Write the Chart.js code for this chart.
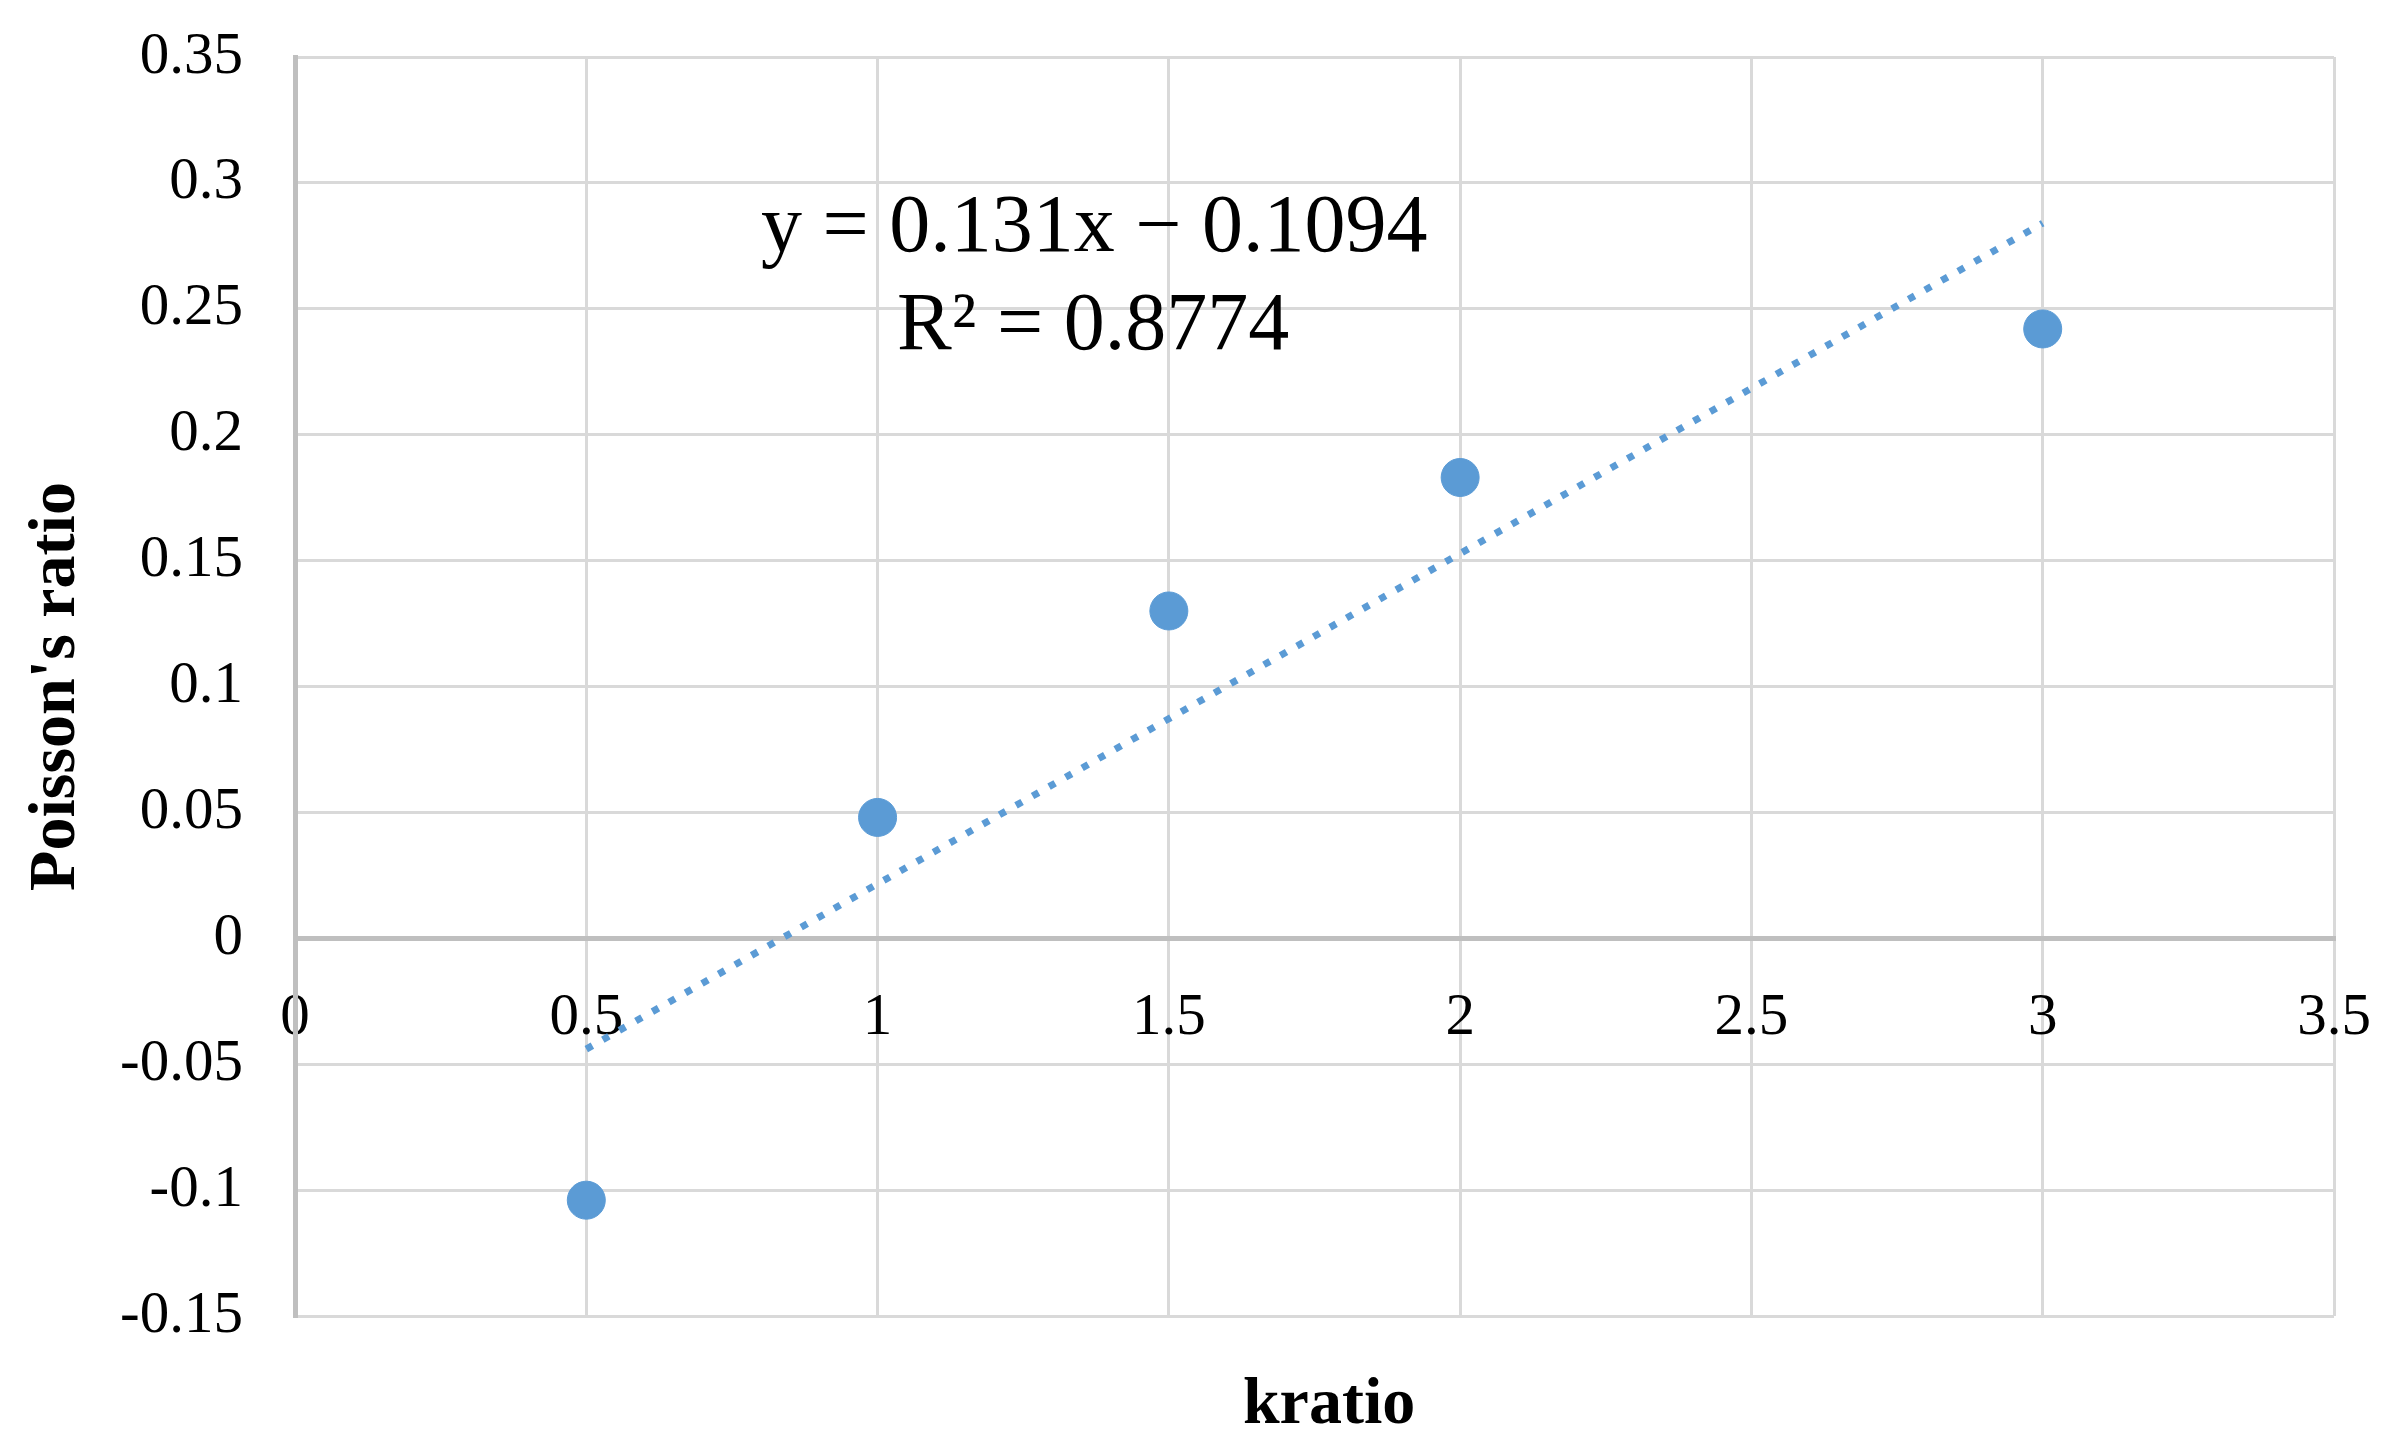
<!DOCTYPE html>
<html>
<head>
<meta charset="utf-8">
<script src="https://cdn.jsdelivr.net/npm/chart.js@4/dist/chart.umd.min.js"></script>
<style>
    html, body {
        margin: 0;
        padding: 0;
        background: #ffffff;
    }
    #wrap {
        width: 2400px;
        height: 1451px;
    }
</style>
</head>
<body>
<div id="wrap">
    <canvas id="poissonChart" width="2400" height="1451"></canvas>
</div>
<script>

const kratio = [0.5, 1, 1.5, 2, 3];

const poissonRatio = [-0.104, 0.048, 0.13, 0.183, 0.242];

// trendline ends as drawn in the picture
const trendX = [0.5, 3];
const trendY = [-0.044, 0.284];

const equationLines = [
    "y = 0.131x \u2212 0.1094",
    "R\u00b2 = 0.8774"
];

const xTickLabels = ["0", "0.5", "1", "1.5", "2", "2.5", "3", "3.5"];
const yTickLabels = ["-0.15", "-0.1", "-0.05", "0", "0.05", "0.1", "0.15", "0.2", "0.25", "0.3", "0.35"];

const BLUE = "#5B9BD5";
const SERIF = "'Liberation Serif', 'Times New Roman', serif";

function pairs(xs, ys) {
    return xs.map((x, i) => ({ x: x, y: ys[i] }));
}

function tickText(list, value) {
    const hit = list.find(
        label => Math.abs(parseFloat(label) - value) < 1e-6
    );
    return hit !== undefined ? hit : "";
}

const textPlugin = {
    id: "extraText",
    afterDatasetsDraw(chart) {
        const ctx = chart.ctx;
        const xs = chart.scales.x;
        const ys = chart.scales.y;

        ctx.save();
        ctx.fillStyle = "#000000";
        ctx.font = "82px " + SERIF;
        ctx.textAlign = "center";
        ctx.textBaseline = "alphabetic";

        ctx.fillText(
            equationLines[0],
            xs.getPixelForValue(1.372),
            ys.getPixelForValue(0.273)
        );

        ctx.fillText(
            equationLines[1],
            xs.getPixelForValue(1.37),
            ys.getPixelForValue(0.234)
        );

        // x axis title
        ctx.font = "bold 66px " + SERIF;
        ctx.textBaseline = "middle";
        ctx.fillText(
            "kratio",
            xs.getPixelForValue(1.775),
            chart.chartArea.bottom + 90
        );

        ctx.restore();
    }
};

const ctx = document.getElementById("poissonChart");

new Chart(ctx, {

    type: "scatter",

    data: {
        datasets: [
            {
                label: "Trend",
                type: "line",
                data: pairs(trendX, trendY),
                borderColor: BLUE,
                borderWidth: 7,
                borderDash: [7, 12],
                borderCapStyle: "butt",
                pointRadius: 0,
                fill: false,
                order: 2
            },
            {
                label: "Poisson's ratio",
                data: pairs(kratio, poissonRatio),
                backgroundColor: BLUE,
                borderColor: BLUE,
                pointRadius: 19,
                pointHoverRadius: 19,
                order: 1
            }
        ]
    },

    options: {
        responsive: false,
        animation: false,
        devicePixelRatio: 1,

        layout: {
            padding: {
                top: 57,
                right: 66,
                bottom: 135,
                left: 0
            }
        },

        plugins: {
            legend: { display: false },
            tooltip: { enabled: false },
            title: { display: false }
        },

        scales: {
            x: {
                type: "linear",
                position: { y: 0 },
                min: 0,
                max: 3.5,
                ticks: {
                    stepSize: 0.5,
                    color: "#000000",
                    padding: 0,
                    font: {
                        family: SERIF,
                        size: 59
                    },
                    callback: value => tickText(xTickLabels, value)
                },
                grid: {
                    color: "#d9d9d9",
                    lineWidth: 3,
                    drawTicks: true,
                    tickLength: 45,
                    tickColor: "rgba(0,0,0,0)"
                },
                border: {
                    display: true,
                    color: "#bfbfbf",
                    width: 5
                }
            },
            y: {
                type: "linear",
                position: "left",
                min: -0.15,
                max: 0.35,
                afterFit: scale => {
                    scale.width = 295;
                },
                ticks: {
                    stepSize: 0.05,
                    color: "#000000",
                    padding: 0,
                    font: {
                        family: SERIF,
                        size: 59
                    },
                    callback: value => tickText(yTickLabels, value)
                },
                grid: {
                    color: "#d9d9d9",
                    lineWidth: 3,
                    drawTicks: true,
                    tickLength: 52,
                    tickColor: "rgba(0,0,0,0)"
                },
                border: {
                    display: true,
                    color: "#bfbfbf",
                    width: 5
                },
                title: {
                    display: true,
                    text: "Poisson's ratio",
                    color: "#000000",
                    font: {
                        family: SERIF,
                        size: 66,
                        weight: "bold"
                    },
                    padding: {
                        top: 17,
                        bottom: 0
                    }
                }
            }
        }
    },

    plugins: [textPlugin]

});

</script>
</body>
</html>
